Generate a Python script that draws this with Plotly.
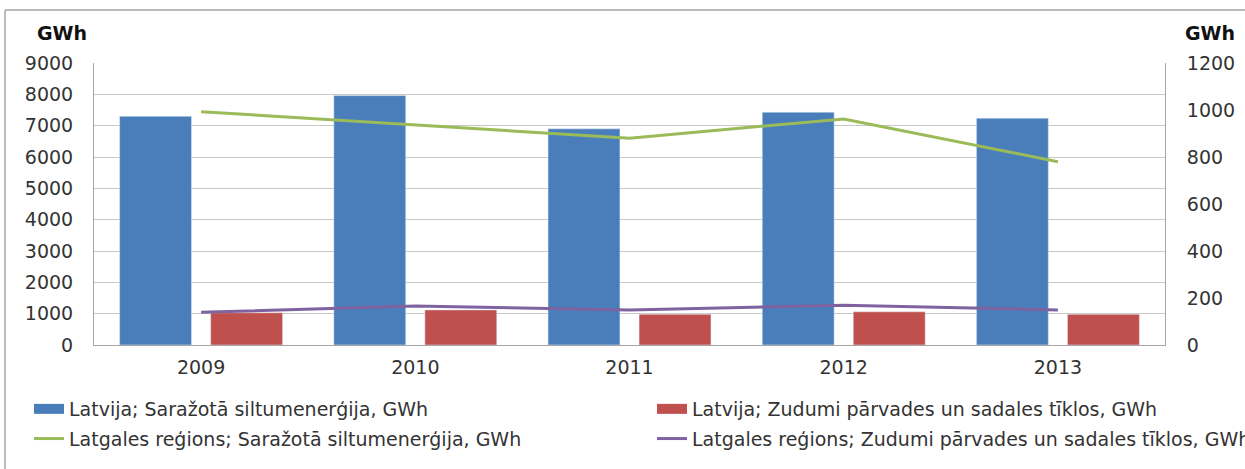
import plotly.graph_objects as go

years = ["2009", "2010", "2011", "2012", "2013"]
latvija_produced = [7300, 7960, 6900, 7430, 7240]
latvija_losses = [1030, 1120, 980, 1060, 980]
latgale_produced = [993, 936, 880, 962, 780]
latgale_losses = [139, 166, 149, 169, 149]

names = [
    "Latvija; Saražotā siltumenerģija, GWh",
    "Latvija; Zudumi pārvades un sadales tīklos, GWh",
    "Latgales reģions; Saražotā siltumenerģija, GWh",
    "Latgales reģions; Zudumi pārvades un sadales tīklos, GWh",
]
left_ticks = [0, 1000, 2000, 3000, 4000, 5000, 6000, 7000, 8000, 9000]
right_ticks = [0, 200, 400, 600, 800, 1000, 1200]

FONT = "DejaVu Sans"
TXT = "#333333"
FS = 19
BLUE, RED, GREEN, PURPLE = "#4A7EBB", "#C0504D", "#9BBB59", "#7F63A1"
W, H = 1245, 469
L, R, T, B = 94, 80, 63, 124
pw, ph = W - L - R, H - T - B

def px_x(p):
    return (p - L) / pw

def px_y(p):
    return (H - B - p) / ph

fig = go.Figure()
fig.add_trace(go.Bar(x=years, y=latvija_produced, name=names[0], marker_color=BLUE,
                     showlegend=False))
fig.add_trace(go.Bar(x=years, y=latvija_losses, name=names[1], marker_color=RED,
                     showlegend=False))
fig.add_trace(go.Scatter(x=years, y=latgale_produced, name=names[2], mode="lines",
                         line=dict(color=GREEN, width=3), yaxis="y2",
                         legend="legend", legendgroup="c", legendrank=2))
fig.add_trace(go.Scatter(x=years, y=latgale_losses, name=names[3], mode="lines",
                         line=dict(color=PURPLE, width=3), yaxis="y2",
                         legend="legend2", legendgroup="d", legendrank=2))
# legend proxies for the bar series (wide rectangle swatches)
fig.add_trace(go.Scatter(x=[years[0]], y=[None], name=names[0], mode="lines",
                         line=dict(color=BLUE, width=10), hoverinfo="skip",
                         legend="legend", legendgroup="a", legendrank=1))
fig.add_trace(go.Scatter(x=[years[0]], y=[None], name=names[1], mode="lines",
                         line=dict(color=RED, width=10), hoverinfo="skip",
                         legend="legend2", legendgroup="b", legendrank=1))

legend_common = dict(orientation="v", xanchor="left", yanchor="top",
                     font=dict(family=FONT, size=FS, color=TXT),
                     bgcolor="rgba(0,0,0,0)", tracegroupgap=2, traceorder="grouped")

fig.update_layout(
    width=W, height=H,
    margin=dict(l=L, r=R, t=T, b=B, autoexpand=False),
    paper_bgcolor="white", plot_bgcolor="white",
    barmode="group", bargap=0.15, bargroupgap=0.21,
    font=dict(family=FONT, size=FS, color=TXT),
    xaxis=dict(type="category", showgrid=False, showline=True, linecolor="#A6A6A6",
               linewidth=1, ticks="", tickfont=dict(size=FS), ticklabelstandoff=5),
    yaxis=dict(range=[0, 9000], tickvals=left_ticks, showgrid=True, gridcolor="#C8C8C8",
               gridwidth=1, showline=True, linecolor="#A6A6A6", linewidth=1, ticks="",
               tickfont=dict(size=FS), ticklabelstandoff=16, zeroline=False),
    yaxis2=dict(range=[0, 1200], tickvals=right_ticks, overlaying="y", side="right",
                showgrid=False, showline=True, linecolor="#A6A6A6", linewidth=1, ticks="",
                tickfont=dict(size=FS), ticklabelstandoff=17, zeroline=False),
    legend=dict(x=px_x(29), y=px_y(390), **legend_common),
    legend2=dict(x=px_x(652), y=px_y(390), **legend_common),
    annotations=[
        dict(text="<b>GWh</b>", xref="paper", yref="paper", x=px_x(35), y=px_y(33),
             xanchor="left", yanchor="middle", showarrow=False,
             font=dict(family=FONT, size=FS, color="#111111")),
        dict(text="<b>GWh</b>", xref="paper", yref="paper", x=px_x(1183), y=px_y(33),
             xanchor="left", yanchor="middle", showarrow=False,
             font=dict(family=FONT, size=FS, color="#111111")),
    ],
    shapes=[
        dict(type="line", xref="paper", yref="paper", x0=px_x(5), x1=px_x(1260),
             y0=px_y(10), y1=px_y(10), line=dict(color="#A6A6A6", width=1.5)),
        dict(type="line", xref="paper", yref="paper", x0=px_x(5), x1=px_x(5),
             y0=px_y(10), y1=px_y(480), line=dict(color="#A6A6A6", width=1.5)),
    ],
)

fig.write_html("out.html", config={"displayModeBar": False},
               post_script="document.body.style.margin='0';document.body.style.overflow='hidden';")
